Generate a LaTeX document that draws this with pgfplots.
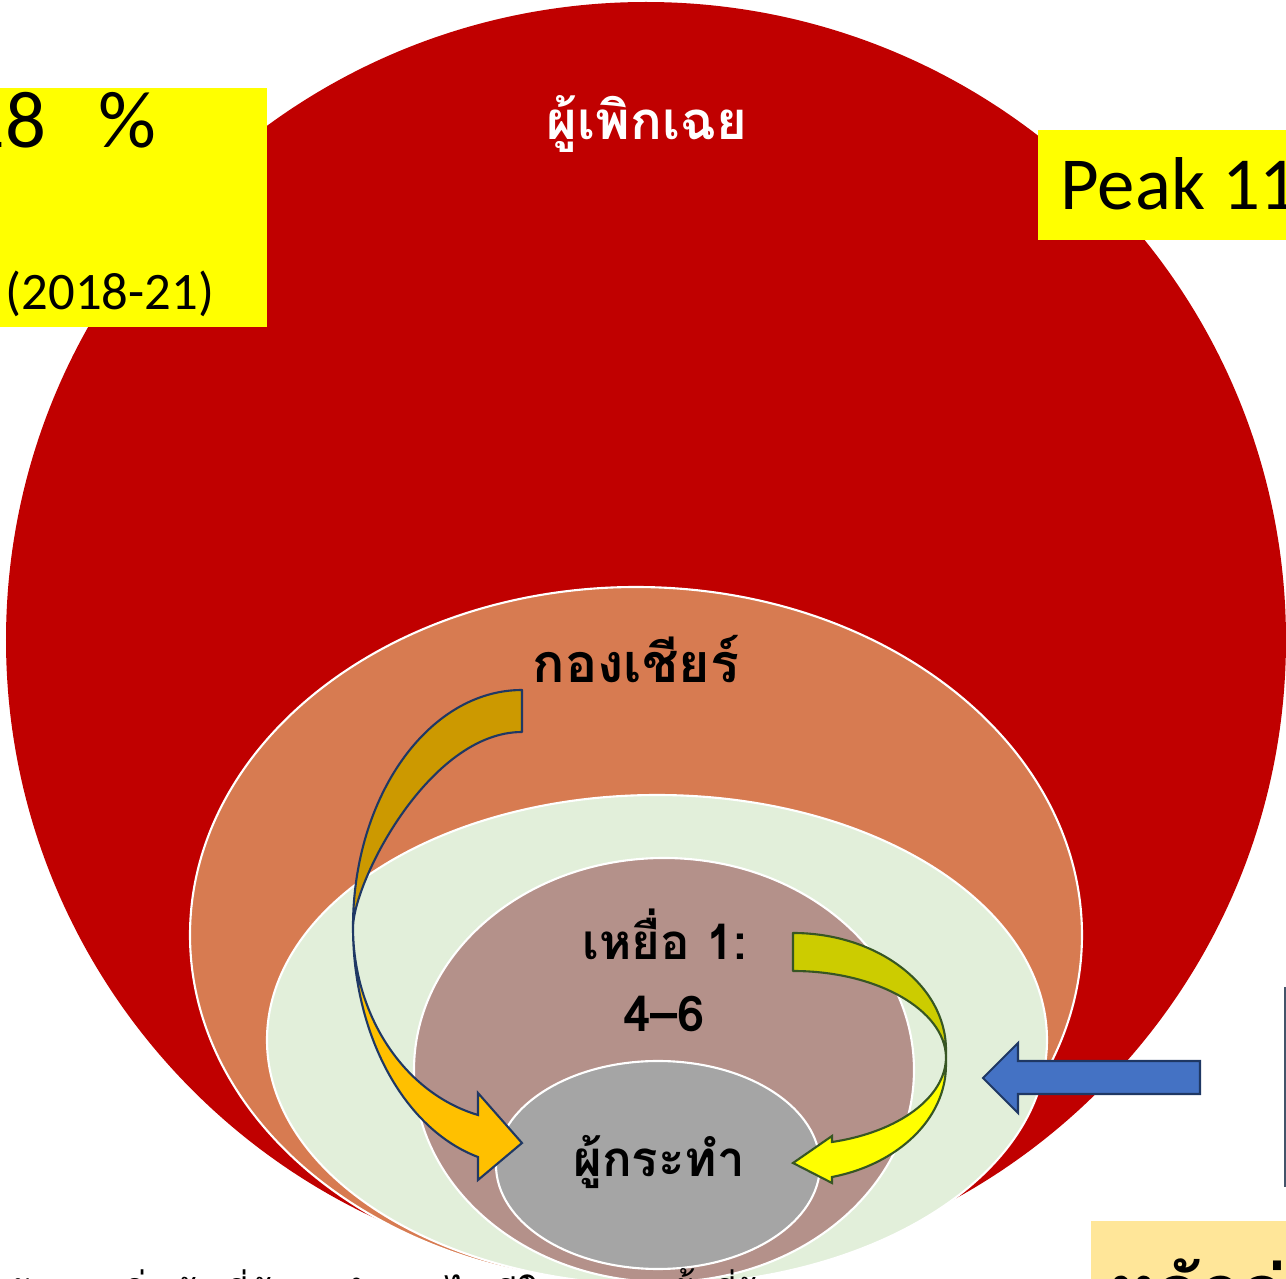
\documentclass[border=0pt]{standalone}
\usepackage{pgfplots}
\pgfplotsset{compat=1.18}
\usepackage{fontspec}
\setmainfont{Carlito}
\newfontfamily\thaifont[Script=Thai]{Loma}
\definecolor{cRed}{HTML}{C00000}
\definecolor{cOrange}{HTML}{D77B51}
\definecolor{cGreen}{HTML}{E2EFDA}
\definecolor{cMauve}{HTML}{B4918A}
\definecolor{cGrey}{HTML}{A5A5A5}
\definecolor{cYel}{HTML}{FFFF00}
\definecolor{cGoldD}{HTML}{CC9900}
\definecolor{cGold}{HTML}{FFC000}
\definecolor{cOlive}{HTML}{CCCC00}
\definecolor{cNavy}{HTML}{1F3864}
\definecolor{cDkGreen}{HTML}{375623}
\definecolor{cBlue}{HTML}{4472C4}
\definecolor{cSlate}{HTML}{44546A}
\definecolor{cCream}{HTML}{FFE699}
\begin{document}
\begin{tikzpicture}
\begin{axis}[name=ax, at={(0,0)}, anchor=south west, scale only axis,
  width=12.86cm, height=12.79cm, xmin=0, xmax=1286, ymin=0, ymax=1279,
  y dir=reverse, hide axis, clip=true]
% big red circle
\fill[cRed] (646,640) ellipse [x radius=640, y radius=638];
% yellow boxes
\fill[cYel] (0,88) rectangle (267,327);
\fill[cYel] (1038,130) rectangle (1290,240);
\node[anchor=base east, inner sep=0, font=\fontsize{23pt}{26pt}\selectfont] at (47,148) {18};
\node[anchor=base west, inner sep=0, font=\fontsize{23pt}{26pt}\selectfont] at (98,148) {\%};
\node[anchor=base west, inner sep=0, font=\fontsize{15pt}{18pt}\selectfont] at (5,310) {(2018-21)};
\node[anchor=base west, inner sep=0, font=\fontsize{21.3pt}{24pt}\selectfont] at (1060,210) {Peak 11};
% nested ellipses
\filldraw[fill=cOrange, draw=white, line width=0.6pt] (636,935) ellipse [x radius=446, y radius=348];
\filldraw[fill=cGreen, draw=white, line width=0.6pt] (657,1040) ellipse [x radius=390, y radius=245];
\filldraw[fill=cMauve, draw=white, line width=0.6pt] (664,1070) ellipse [x radius=250, y radius=212];
\filldraw[fill=cGrey, draw=white, line width=0.6pt] (658,1165) ellipse [x radius=162, y radius=104];
% left curved arrow: back band
\filldraw[fill=cGoldD, draw=cNavy, line width=0.6pt, line join=round]
  (522,690) .. controls (429,690) and (353,796) .. (353,927)
  .. controls (354,880) and (430,732) .. (522,732) -- cycle;
% left curved arrow: front band with head
\filldraw[fill=cGold, draw=cNavy, line width=0.6pt, line join=miter]
  (353,927) .. controls (353,1035) and (404,1129) .. (478,1157)
  -- (478,1180) -- (522,1143) -- (478,1093) -- (478,1115)
  .. controls (404,1093) and (353,1015) .. (353,927) -- cycle;
% right curved arrow: back band
\filldraw[fill=cOlive, draw=cDkGreen, line width=0.6pt, line join=round]
  (793,933) .. controls (877,933) and (946,985) .. (946,1050)
  -- (946,1057) .. controls (945,1010) and (877,971) .. (793,971) -- cycle;
% right curved arrow: front band with head
\filldraw[fill=cYel, draw=cDkGreen, line width=0.6pt, line join=miter]
  (946,1057) -- (946,1065) .. controls (946,1118) and (899,1164) .. (832,1177)
  -- (832,1183) -- (793,1163) -- (832,1136) -- (832,1142)
  .. controls (899,1132) and (946,1097) .. (946,1057) -- cycle;
% blue arrow
\filldraw[fill=cBlue, draw=cNavy, line width=0.6pt, line join=miter]
  (1200,1061) -- (1018,1061) -- (1018,1043) -- (983,1078) -- (1018,1113)
  -- (1018,1094) -- (1200,1094) -- cycle;
% vertical line on right
\draw[cSlate, line width=0.6pt] (1285,987) -- (1285,1187);
% bottom right box
\fill[cCream] (1091,1221) rectangle (1290,1290);
\node[anchor=base west, inner sep=0, font=\thaifont\bfseries\fontsize{20pt}{24pt}\selectfont] at (1110,1316) {หลักล่าง};
% bottom text (cut off)
\node[anchor=base west, inner sep=0, font=\thaifont\fontsize{11pt}{13pt}\selectfont] at (8,1310) {ปัญหาเริ่มต้นที่ผู้กระทำ แต่ไม่มีใครช่วย ทั้งที่รู้};
% Thai labels
\node[anchor=base, inner sep=0, text=white, font=\thaifont\bfseries\fontsize{15pt}{18pt}\selectfont] at (647,140) {ผู้เพิกเฉย};
\node[anchor=base, inner sep=0, font=\thaifont\bfseries\fontsize{15.3pt}{18pt}\selectfont] at (636,683) {กองเชียร์};
\node[anchor=base, inner sep=0, font=\thaifont\bfseries\fontsize{14pt}{17pt}\selectfont] at (665,960) {เหยื่อ 1:};
\node[anchor=base, inner sep=0, font=\thaifont\bfseries\fontsize{14pt}{17pt}\selectfont] at (664,1032) {4–6};
\node[anchor=base, inner sep=0, font=\thaifont\bfseries\fontsize{14pt}{17pt}\selectfont] at (659,1177) {ผู้กระทำ};
\end{axis}
\pgfresetboundingbox
\useasboundingbox (ax.south west) rectangle (ax.north east);
\end{tikzpicture}
\end{document}
